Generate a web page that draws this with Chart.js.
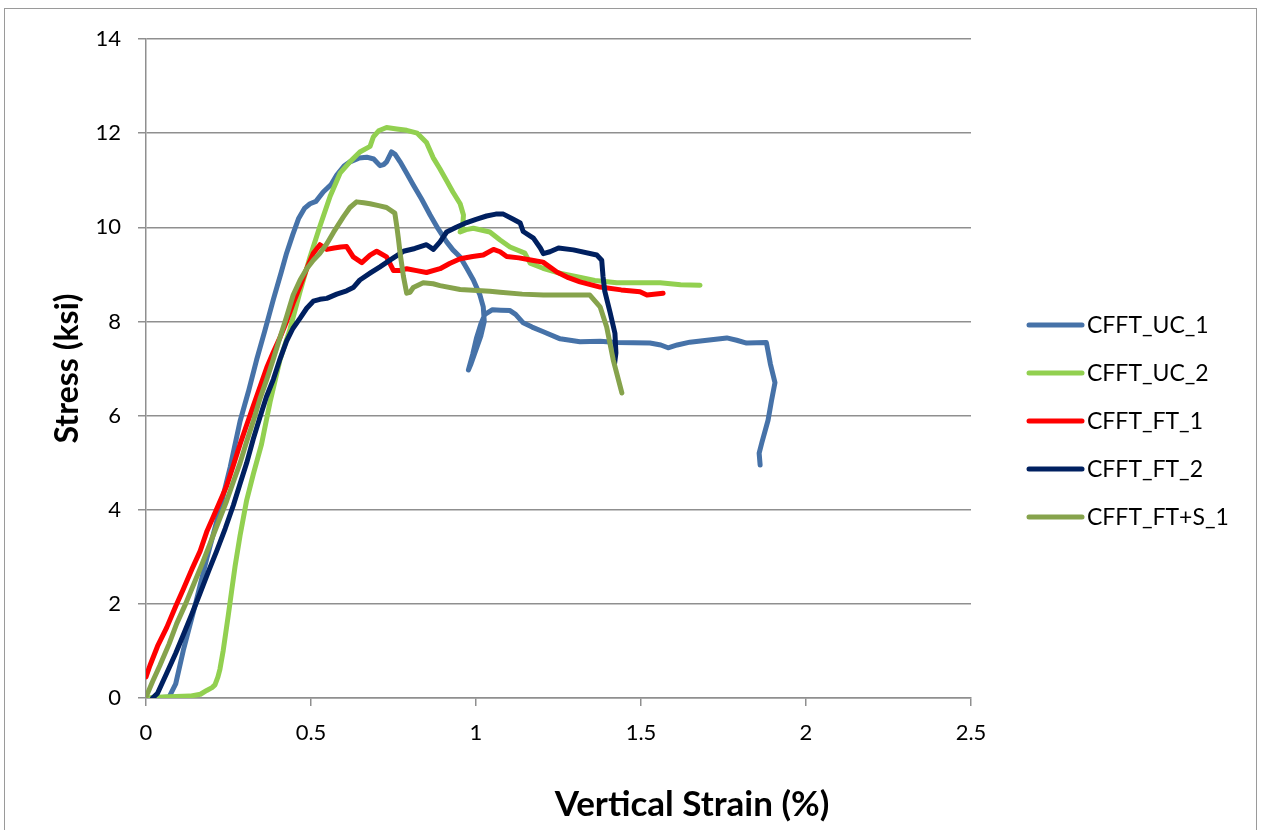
<!DOCTYPE html>
<html>
<head>
<meta charset="utf-8">
<script src="https://cdn.jsdelivr.net/npm/chart.js@4.4.0/dist/chart.umd.min.js"></script>
<style>
    html, body { margin: 0; padding: 0; background: #fff; }
    #wrap { width: 1262px; height: 830px; }
</style>
</head>
<body>
<div id="wrap"><canvas id="chartStress" width="1262" height="830"></canvas></div>
<script>
// Datos: deformación vertical (%) y esfuerzo (ksi) por probeta
const seriesNames = ['CFFT_UC_1', 'CFFT_UC_2', 'CFFT_FT_1', 'CFFT_FT_2', 'CFFT_FT+S_1'];

const strainUC1 = [0.03, 0.07, 0.09, 0.113, 0.15, 0.184, 0.22, 0.255, 0.285, 0.31, 0.335, 0.36, 0.386, 0.41, 0.426, 0.445, 0.462, 0.48, 0.497, 0.515, 0.537, 0.56, 0.578, 0.6, 0.618, 0.645, 0.669, 0.69, 0.709, 0.72, 0.729, 0.744, 0.755, 0.77, 0.79, 0.81, 0.835, 0.861, 0.885, 0.911, 0.93, 0.952, 0.972, 0.992, 1.012, 1.022, 1.025, 1.015, 1.0, 0.985, 0.977, 0.99, 1.002, 1.015, 1.027, 1.05, 1.075, 1.103, 1.12, 1.143, 1.17, 1.204, 1.255, 1.315, 1.376, 1.427, 1.527, 1.56, 1.582, 1.61, 1.648, 1.7, 1.76, 1.79, 1.82, 1.88, 1.892, 1.906, 1.895, 1.885, 1.866, 1.858, 1.861];
const stressUC1 = [0, 0.02, 0.3, 1.01, 2.0, 2.96, 3.9, 4.9, 5.88, 6.5, 7.18, 7.8, 8.47, 9.05, 9.45, 9.85, 10.18, 10.4, 10.5, 10.55, 10.75, 10.9, 11.11, 11.3, 11.39, 11.47, 11.49, 11.45, 11.31, 11.33, 11.39, 11.6, 11.55, 11.39, 11.15, 10.9, 10.6, 10.26, 9.97, 9.69, 9.52, 9.37, 9.13, 8.88, 8.56, 8.31, 8.0, 7.7, 7.4, 7.1, 6.97, 7.3, 7.66, 7.95, 8.15, 8.25, 8.24, 8.23, 8.15, 7.97, 7.88, 7.78, 7.63, 7.57, 7.58, 7.55, 7.54, 7.5, 7.44, 7.5, 7.56, 7.6, 7.65, 7.6, 7.54, 7.55, 7.1, 6.7, 6.3, 5.9, 5.42, 5.2, 4.95];

const strainUC2 = [0, 0.05, 0.133, 0.165, 0.184, 0.2, 0.209, 0.218, 0.224, 0.234, 0.242, 0.249, 0.26, 0.27, 0.285, 0.305, 0.325, 0.35, 0.376, 0.406, 0.436, 0.467, 0.497, 0.527, 0.558, 0.588, 0.618, 0.648, 0.679, 0.689, 0.705, 0.729, 0.76, 0.79, 0.822, 0.85, 0.87, 0.89, 0.911, 0.93, 0.952, 0.962, 0.96, 0.952, 0.97, 0.992, 1.042, 1.073, 1.103, 1.148, 1.164, 1.203, 1.25, 1.306, 1.36, 1.427, 1.49, 1.558, 1.62, 1.679];
const stressUC2 = [0, 0.02, 0.04, 0.08, 0.16, 0.22, 0.28, 0.45, 0.61, 1.01, 1.4, 1.74, 2.3, 2.8, 3.45, 4.2, 4.75, 5.39, 6.29, 7.18, 7.83, 8.64, 9.37, 10.02, 10.66, 11.15, 11.39, 11.6, 11.72, 11.92, 12.05, 12.12, 12.09, 12.06, 12.0, 11.8, 11.48, 11.25, 10.99, 10.75, 10.5, 10.26, 10.05, 9.9, 9.95, 9.98, 9.9, 9.73, 9.58, 9.45, 9.24, 9.13, 9.03, 8.95, 8.87, 8.82, 8.82, 8.82, 8.78, 8.77];

const strainFT1 = [0, 0.012, 0.035, 0.063, 0.09, 0.113, 0.14, 0.164, 0.185, 0.204, 0.244, 0.265, 0.285, 0.305, 0.325, 0.345, 0.366, 0.386, 0.406, 0.426, 0.446, 0.467, 0.487, 0.507, 0.527, 0.548, 0.57, 0.59, 0.608, 0.628, 0.654, 0.679, 0.699, 0.729, 0.75, 0.77, 0.79, 0.82, 0.85, 0.891, 0.92, 0.952, 0.99, 1.022, 1.053, 1.073, 1.093, 1.13, 1.17, 1.203, 1.245, 1.28, 1.315, 1.376, 1.44, 1.497, 1.518, 1.567];
const stressFT1 = [0.45, 0.69, 1.1, 1.5, 1.95, 2.31, 2.75, 3.12, 3.55, 3.85, 4.5, 4.95, 5.39, 5.8, 6.2, 6.6, 7.02, 7.35, 7.66, 8.0, 8.39, 8.75, 9.12, 9.45, 9.63, 9.53, 9.56, 9.58, 9.59, 9.37, 9.25, 9.41, 9.49, 9.37, 9.08, 9.08, 9.12, 9.08, 9.04, 9.12, 9.23, 9.33, 9.38, 9.41, 9.53, 9.48, 9.38, 9.35, 9.3, 9.26, 9.05, 8.93, 8.84, 8.73, 8.67, 8.63, 8.56, 8.6];

const strainFT2 = [0.02, 0.035, 0.063, 0.09, 0.113, 0.14, 0.164, 0.19, 0.214, 0.24, 0.265, 0.285, 0.305, 0.325, 0.345, 0.365, 0.386, 0.406, 0.426, 0.445, 0.467, 0.487, 0.507, 0.527, 0.548, 0.578, 0.608, 0.628, 0.648, 0.68, 0.709, 0.745, 0.78, 0.815, 0.85, 0.871, 0.891, 0.911, 0.94, 0.972, 1.0, 1.032, 1.06, 1.083, 1.113, 1.134, 1.143, 1.174, 1.195, 1.204, 1.224, 1.25, 1.295, 1.366, 1.381, 1.385, 1.39, 1.406, 1.421, 1.424, 1.42];
const stressFT2 = [0, 0.1, 0.53, 0.95, 1.34, 1.8, 2.23, 2.7, 3.12, 3.6, 4.1, 4.55, 4.99, 5.5, 5.96, 6.4, 6.77, 7.2, 7.58, 7.85, 8.07, 8.28, 8.43, 8.47, 8.49, 8.58, 8.65, 8.72, 8.88, 9.03, 9.16, 9.33, 9.49, 9.55, 9.63, 9.53, 9.69, 9.9, 10.0, 10.1, 10.17, 10.24, 10.28, 10.28, 10.17, 10.09, 9.91, 9.77, 9.56, 9.44, 9.48, 9.56, 9.52, 9.41, 9.3, 8.95, 8.65, 8.2, 7.75, 7.33, 7.11];

const strainFTS1 = [0.002, 0.02, 0.042, 0.07, 0.093, 0.12, 0.143, 0.17, 0.194, 0.22, 0.244, 0.265, 0.285, 0.305, 0.325, 0.345, 0.366, 0.386, 0.406, 0.426, 0.446, 0.467, 0.487, 0.507, 0.527, 0.548, 0.568, 0.598, 0.618, 0.638, 0.66, 0.679, 0.705, 0.729, 0.754, 0.76, 0.765, 0.77, 0.78, 0.79, 0.8, 0.81, 0.84, 0.87, 0.891, 0.952, 1.042, 1.073, 1.14, 1.204, 1.27, 1.345, 1.376, 1.396, 1.416, 1.442];
const stressFTS1 = [0.05, 0.35, 0.69, 1.15, 1.58, 2.0, 2.39, 2.85, 3.28, 3.75, 4.18, 4.6, 4.99, 5.45, 5.88, 6.35, 6.77, 7.2, 7.66, 8.1, 8.56, 8.88, 9.12, 9.3, 9.45, 9.65, 9.89, 10.22, 10.42, 10.54, 10.52, 10.5, 10.46, 10.42, 10.3, 10.02, 9.75, 9.45, 8.96, 8.6, 8.62, 8.72, 8.82, 8.8, 8.76, 8.68, 8.64, 8.62, 8.58, 8.56, 8.56, 8.56, 8.31, 7.88, 7.18, 6.48];

// Ejes
const xTickStep = 0.5;
const xMax = 2.5;
const yTickStep = 2;
const yMax = 14;

// Paleta
const COLORS = ['#4672A8', '#92D050', '#FF0000', '#002060', '#86A34C'];
const GRID = '#8f8f8f';
const FONT = 'Lato, "Open Sans", sans-serif';

Chart.defaults.font.family = FONT;
Chart.defaults.color = '#000';

function toPoints(xs, ys) {
    return xs.map((x, i) => ({ x: x, y: ys[i] }));
}

const seriesData = [
    toPoints(strainUC1, stressUC1),
    toPoints(strainUC2, stressUC2),
    toPoints(strainFT1, stressFT1),
    toPoints(strainFT2, stressFT2),
    toPoints(strainFTS1, stressFTS1)
];

// ============================================
// Plugins: marco, leyenda y título del eje X
// ============================================

const framePlugin = {
    id: 'frame',
    beforeDraw(chart) {
        const c = chart.ctx;
        c.save();
        c.fillStyle = '#fff';
        c.fillRect(0, 0, chart.width, chart.height);
        c.strokeStyle = '#9a9a9a';
        c.lineWidth = 1;
        c.strokeRect(4.5, 8.5, 1252, 900);
        c.restore();
    }
};

const legendPlugin = {
    id: 'sideLegend',
    afterDraw(chart) {
        const c = chart.ctx;
        c.save();
        c.font = '23px ' + FONT;
        c.textBaseline = 'middle';
        c.lineCap = 'round';
        seriesNames.forEach((name, i) => {
            const y = 325 + i * 48;
            c.strokeStyle = COLORS[i];
            c.lineWidth = 5;
            c.beginPath();
            c.moveTo(1029, y);
            c.lineTo(1082, y);
            c.stroke();
            c.fillStyle = '#000';
            c.fillText(name, 1087, y + 1);
        });
        c.restore();
    }
};

const xTitlePlugin = {
    id: 'xTitle',
    afterDraw(chart) {
        const c = chart.ctx;
        c.save();
        c.font = 'bold 35px ' + FONT;
        c.textAlign = 'center';
        c.textBaseline = 'middle';
        c.fillStyle = '#000';
        c.fillText('Vertical Strain (%)', 692, 805);
        c.restore();
    }
};

// ============================================
// Gráfico
// ============================================

new Chart(document.getElementById('chartStress'), {
    type: 'scatter',
    data: {
        datasets: seriesData.map((pts, i) => ({
            label: seriesNames[i],
            data: pts,
            showLine: true,
            borderColor: COLORS[i],
            backgroundColor: COLORS[i],
            borderWidth: 5,
            pointRadius: 0,
            borderCapStyle: 'round',
            borderJoinStyle: 'round',
            tension: 0,
            order: seriesNames.length - i
        }))
    },
    options: {
        responsive: false,
        animation: false,
        layout: { padding: { top: 39, right: 291, bottom: 0, left: 0 } },
        plugins: {
            legend: { display: false },
            tooltip: { enabled: false }
        },
        scales: {
            x: {
                type: 'linear',
                min: 0,
                max: xMax,
                ticks: {
                    stepSize: xTickStep,
                    padding: 14,
                    font: { size: 22 },
                    color: '#000',
                    callback: v => String(Math.round(v * 10) / 10)
                },
                grid: { drawOnChartArea: false, tickLength: 8, color: GRID, lineWidth: 1.5 },
                border: { color: GRID, width: 1.5 },
                afterFit: scale => { scale.height = 132; }
            },
            y: {
                min: 0,
                max: yMax,
                ticks: { stepSize: yTickStep, padding: 17, font: { size: 22 }, color: '#000' },
                grid: { tickLength: 8, color: GRID, lineWidth: 1.5 },
                border: { color: GRID, width: 1.5 },
                title: {
                    display: true,
                    text: 'Stress (ksi)',
                    color: '#000',
                    font: { size: 32, weight: 'bold' },
                    padding: { top: 48, bottom: 0 }
                },
                afterFit: scale => { scale.width = 146; }
            }
        }
    },
    plugins: [framePlugin, legendPlugin, xTitlePlugin]
});
</script>
</body>
</html>
